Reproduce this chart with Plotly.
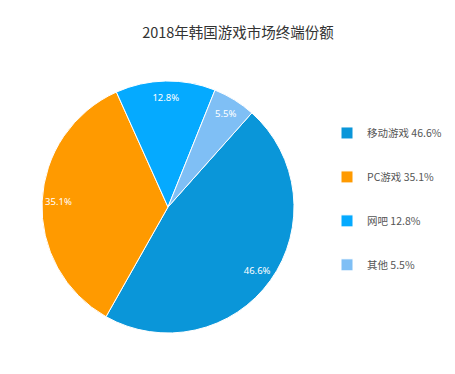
import plotly.graph_objects as go

categories = ["移动游戏", "PC游戏", "网吧", "其他"]
values = [46.6, 35.1, 12.8, 5.5]
colors = ["#0a96d9", "#ff9a00", "#05aaff", "#7fbff5"]

legend_labels = [f"{c} {v}%" for c, v in zip(categories, values)]
text_labels = [f"{v}%" for v in values]

W, H = 455, 374
cx, cy, r = 168, 207, 126
dom = dict(x=[(cx - r) / W, (cx + r) / W], y=[(H - cy - r) / H, (H - cy + r) / H])

fig = go.Figure()
fig.add_trace(go.Pie(
    labels=[f"<br>{l}<br> " for l in legend_labels],
    values=values,
    textinfo="none",
    marker=dict(colors=colors, line=dict(color="white", width=1)),
    sort=False,
    direction="clockwise",
    rotation=41.7,
    hoverinfo="label+percent",
    domain=dom,
))
# transparent ring used only to place the percentage labels near the rim
fig.add_trace(go.Pie(
    labels=categories,
    values=values,
    text=text_labels,
    textinfo="text",
    textposition="inside",
    insidetextorientation="horizontal",
    textfont=dict(color="white", size=9.5, family="Noto Sans"),
    hole=0.74,
    marker=dict(colors=["rgba(0,0,0,0)"] * len(values), line=dict(width=0)),
    sort=False,
    direction="clockwise",
    rotation=41.7,
    hoverinfo="skip",
    showlegend=False,
    domain=dom,
))

fig.update_layout(
    width=W, height=H,
    margin=dict(l=0, r=0, t=0, b=0),
    paper_bgcolor="white",
    font=dict(family="Noto Sans CJK SC, Noto Sans, sans-serif", color="#555"),
    title=dict(text="2018年韩国游戏市场终端份额", x=238 / W, xanchor="center",
               y=1 - 33 / H, yanchor="middle",
               font=dict(size=14.5, color="#333")),
    legend=dict(x=327 / W, xanchor="left", y=1 - 106 / H, yanchor="top",
                font=dict(size=10.5, color="#555"), itemwidth=30),
    showlegend=True,
)

fig.write_html("out.html", config={"displayModeBar": False},
               post_script="document.body.style.margin='0';")
